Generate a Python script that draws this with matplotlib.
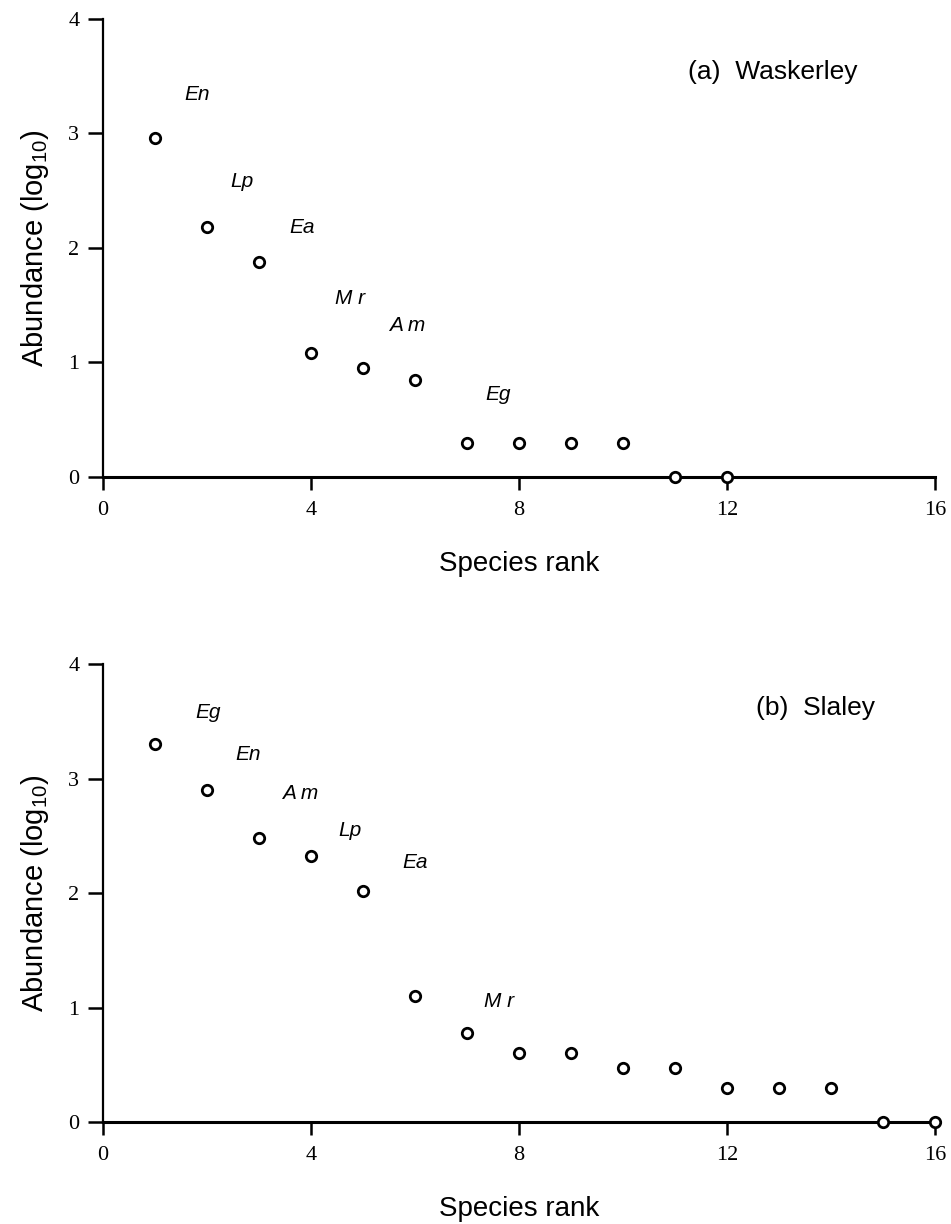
import matplotlib
matplotlib.use("Agg")
import matplotlib.pyplot as plt

plt.rcParams['font.family'] = ['Liberation Sans', 'DejaVu Sans']
plt.rcParams['mathtext.default'] = 'regular'

# (a) Waskerley
rank_a = [1, 2, 3, 4, 5, 6, 7, 8, 9, 10, 11, 12]
abund_a = [2.96, 2.18, 1.88, 1.08, 0.95, 0.85, 0.30, 0.30, 0.30, 0.30, 0.0, 0.0]
names_a = ['En', 'Lp', 'Ea', 'M r', 'A m', 'Eg']
name_x_a = [1.81, 2.67, 3.83, 4.75, 5.84, 7.6]
name_y_a = [3.34, 2.58, 2.18, 1.56, 1.32, 0.72]

# (b) Slaley
rank_b = [1, 2, 3, 4, 5, 6, 7, 8, 9, 10, 11, 12, 13, 14, 15, 16]
abund_b = [3.30, 2.90, 2.48, 2.32, 2.02, 1.10, 0.78, 0.60, 0.60, 0.47, 0.47,
           0.30, 0.30, 0.30, 0.0, 0.0]
names_b = ['Eg', 'En', 'A m', 'Lp', 'Ea', 'M r']
name_x_b = [2.02, 2.79, 3.79, 4.75, 6.0, 7.62]
name_y_b = [3.58, 3.21, 2.87, 2.55, 2.27, 1.05]

xticks = [0, 4, 8, 12, 16]
yticks = [0, 1, 2, 3, 4]


def panel(ax, ranks, vals, names, nx, ny, title, tx, ty):
    ax.plot(ranks, vals, 'o', ms=7.5, mfc='white', mec='black', mew=2,
            clip_on=False, zorder=5)
    for n, x, y in zip(names, nx, ny):
        ax.text(x, y, n, fontsize=15, style='italic', ha='center', va='center')
    ax.text(tx, ty, title, fontsize=19, ha='left', va='center')
    ax.set_xlim(0, 16)
    ax.set_ylim(0, 4)
    ax.spines['top'].set_visible(False)
    ax.spines['right'].set_visible(False)
    ax.spines['left'].set_linewidth(1.6)
    ax.spines['bottom'].set_linewidth(2.2)
    ax.set_xticks(xticks)
    ax.set_yticks(yticks)
    ax.tick_params(axis='x', direction='out', length=9, width=1.8, pad=8)
    ax.tick_params(axis='y', direction='out', length=11, width=1.8, pad=6)
    for lab in ax.get_xticklabels() + ax.get_yticklabels():
        lab.set_fontfamily('Liberation Serif')
        lab.set_fontsize(16)
    ax.set_xlabel('Species rank', fontsize=20, va='top')
    ax.xaxis.set_label_coords(0.5, -0.162)
    ax.set_ylabel('Abundance (log$_{10}$)', fontsize=21)
    ax.yaxis.set_label_coords(-0.063, 0.5)


fig = plt.figure(figsize=(9.51, 12.24), dpi=100)
ax1 = fig.add_axes([0.1083, 0.6103, 0.875, 0.3742])
ax2 = fig.add_axes([0.1083, 0.0833, 0.875, 0.3742])

panel(ax1, rank_a, abund_a, names_a, name_x_a, name_y_a, '(a)  Waskerley', 11.25, 3.54)
panel(ax2, rank_b, abund_b, names_b, name_x_b, name_y_b, '(b)  Slaley', 12.55, 3.62)

fig.savefig('out.png', dpi=100)
